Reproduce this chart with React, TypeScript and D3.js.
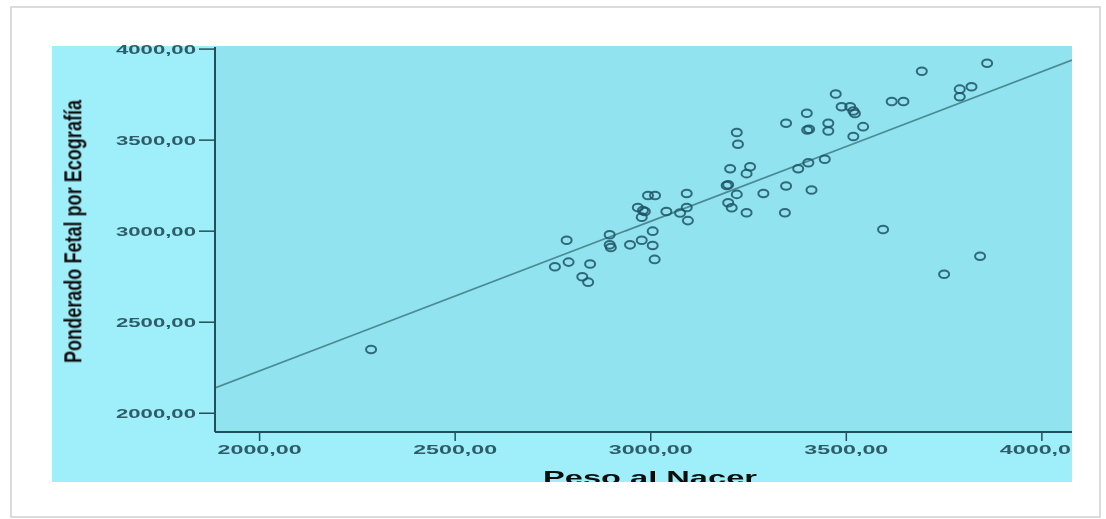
import React, { useEffect, useRef } from "react";
import * as d3 from "d3";

// Birth weight (g) vs. ultrasound estimated fetal weight (g)
const pesoNacer: number[] = [
  2285, 2755, 2785, 2790, 2845, 2825, 2840, 2895, 2895, 2898,
  2947, 2977, 3005, 3005, 3010, 2993, 3011, 3092, 2967, 2980,
  2985, 2977, 3040, 3075, 3092, 3095, 3220, 3223, 3203, 3254,
  3245, 3194, 3198, 3220, 3198, 3207, 3245, 3288, 3346, 3343,
  3411, 3377, 3403, 3445, 3346, 3399, 3400, 3405, 3454, 3454,
  3518, 3543, 3473, 3488, 3510, 3522, 3518, 3616, 3646, 3693,
  3790, 3820, 3790, 3860, 3594, 3750, 3842,
];
const ponderadoEco: number[] = [
  2350, 2805, 2950, 2830, 2820, 2750, 2720, 2980, 2925, 2910,
  2925, 2950, 3000, 2921, 2845, 3196, 3196, 3207, 3130, 3113,
  3108, 3077, 3108, 3100, 3130, 3058, 3542, 3477, 3343, 3354,
  3316, 3251, 3255, 3202, 3156, 3129, 3101, 3207, 3248, 3101,
  3226, 3343, 3376, 3395, 3593, 3648, 3556, 3560, 3593, 3550,
  3520, 3574, 3753, 3683, 3683, 3646, 3660, 3712, 3712, 3878,
  3780, 3793, 3738, 3922, 3009, 2763, 2862,
];

// Linear fit line: y = b0 + b1 * x
const fitIntercept = 590;
const fitSlope = 0.8215;

const xTicks: number[] = [2000, 2500, 3000, 3500, 4000];
const yTicks: number[] = [2000, 2500, 3000, 3500, 4000];
const xDomain: [number, number] = [1886, 4077];
const yDomain: [number, number] = [1897, 4017];

const xTitle = "Peso al Nacer";
const yTitle = "Ponderado Fetal por Ecografía";

const W = 1106;
const H = 519;
const panel = { x0: 52, y0: 46, x1: 1072, y1: 482 };
const plot = { x0: 215, y0: 46, x1: 1072, y1: 432 };

const fmt = (v: number) => v.toFixed(2).replace(".", ",");

export default function App() {
  const ref = useRef<SVGSVGElement | null>(null);

  useEffect(() => {
    const svg = d3.select(ref.current);
    svg.selectAll("*").remove();

    const x = d3.scaleLinear().domain(xDomain).range([plot.x0, plot.x1]);
    const y = d3.scaleLinear().domain(yDomain).range([plot.y1, plot.y0]);

    const defs = svg.append("defs");
    defs
      .append("clipPath")
      .attr("id", "panelClip")
      .append("rect")
      .attr("x", panel.x0)
      .attr("y", panel.y0)
      .attr("width", panel.x1 - panel.x0)
      .attr("height", panel.y1 - panel.y0);
    defs
      .append("clipPath")
      .attr("id", "plotClip")
      .append("rect")
      .attr("x", plot.x0)
      .attr("y", plot.y0)
      .attr("width", plot.x1 - plot.x0)
      .attr("height", plot.y1 - plot.y0);
    const f = defs.append("filter").attr("id", "soft");
    f.append("feGaussianBlur").attr("stdDeviation", 0.35);

    // page card
    svg.append("rect").attr("width", W).attr("height", H).attr("fill", "#ffffff");
    svg
      .append("rect")
      .attr("x", 11)
      .attr("y", 7)
      .attr("width", 1089)
      .attr("height", 510)
      .attr("fill", "#ffffff")
      .attr("stroke", "#cfcfcf")
      .attr("stroke-width", 1.5);

    // outer chart panel and inner plot area
    svg
      .append("rect")
      .attr("x", panel.x0)
      .attr("y", panel.y0)
      .attr("width", panel.x1 - panel.x0)
      .attr("height", panel.y1 - panel.y0)
      .attr("fill", "#9eeffa");
    svg
      .append("rect")
      .attr("x", plot.x0)
      .attr("y", plot.y0)
      .attr("width", plot.x1 - plot.x0)
      .attr("height", plot.y1 - plot.y0)
      .attr("fill", "#90e3ef");

    const g = svg.append("g").attr("filter", "url(#soft)");

    // fit line
    g.append("line")
      .attr("clip-path", "url(#plotClip)")
      .attr("x1", x(xDomain[0]))
      .attr("y1", y(fitIntercept + fitSlope * xDomain[0]))
      .attr("x2", x(xDomain[1]))
      .attr("y2", y(fitIntercept + fitSlope * xDomain[1]))
      .attr("stroke", "#4b8b95")
      .attr("stroke-width", 1.7);

    // points
    const pts = pesoNacer.map((v, i) => [v, ponderadoEco[i]] as [number, number]);
    g.append("g")
      .selectAll("ellipse")
      .data(pts)
      .join("ellipse")
      .attr("cx", (d) => x(d[0]))
      .attr("cy", (d) => y(d[1]))
      .attr("rx", 5)
      .attr("ry", 3.8)
      .attr("fill", "none")
      .attr("stroke", "#1f5463")
      .attr("stroke-opacity", 0.85)
      .attr("stroke-width", 2);

    // axes
    const axisColor = "#23505b";
    const labelColor = "#2f5c68";
    g.append("line")
      .attr("x1", plot.x0)
      .attr("x2", plot.x0)
      .attr("y1", plot.y0 + 1)
      .attr("y2", plot.y1)
      .attr("stroke", axisColor)
      .attr("stroke-width", 2);
    g.append("line")
      .attr("x1", plot.x0)
      .attr("x2", plot.x1)
      .attr("y1", plot.y1)
      .attr("y2", plot.y1)
      .attr("stroke", axisColor)
      .attr("stroke-width", 2);

    const yt = g.append("g");
    yTicks.forEach((t) => {
      yt.append("line")
        .attr("x1", plot.x0 - 16)
        .attr("x2", plot.x0)
        .attr("y1", y(t))
        .attr("y2", y(t))
        .attr("stroke", axisColor)
        .attr("stroke-width", 1.5);
      yt.append("text")
        .attr("x", 196)
        .attr("y", y(t) + 4.8)
        .attr("text-anchor", "end")
        .attr("font-family", "'Liberation Sans', Arial, sans-serif")
        .attr("font-size", 13)
        .attr("font-weight", 600)
        .attr("fill", labelColor)
        .attr("textLength", 80)
        .attr("lengthAdjust", "spacingAndGlyphs")
        .text(fmt(t));
    });

    const xt = g.append("g").attr("clip-path", "url(#panelClip)");
    xTicks.forEach((t) => {
      xt.append("line")
        .attr("x1", x(t))
        .attr("x2", x(t))
        .attr("y1", plot.y1)
        .attr("y2", plot.y1 + 9)
        .attr("stroke", axisColor)
        .attr("stroke-width", 1.5);
      xt.append("text")
        .attr("x", x(t) - 42)
        .attr("y", 454)
        .attr("font-family", "'Liberation Sans', Arial, sans-serif")
        .attr("font-size", 13)
        .attr("font-weight", 600)
        .attr("fill", labelColor)
        .attr("textLength", 84)
        .attr("lengthAdjust", "spacingAndGlyphs")
        .text(fmt(t));
    });

    // axis titles
    g.append("text")
      .attr("clip-path", "url(#panelClip)")
      .attr("x", 543)
      .attr("y", 484)
      .attr("font-family", "'Liberation Sans', Arial, sans-serif")
      .attr("font-weight", "bold")
      .attr("font-size", 19)
      .attr("fill", "#111")
      .attr("textLength", 214)
      .attr("lengthAdjust", "spacingAndGlyphs")
      .text(xTitle);

    g.append("text")
      .attr("transform", "translate(81,231.5) scale(1.35,1) rotate(-90)")
      .attr("x", -131.5)
      .attr("y", 0)
      .attr("font-family", "'Liberation Sans', Arial, sans-serif")
      .attr("font-weight", "bold")
      .attr("font-size", 18)
      .attr("fill", "#111")
      .attr("textLength", 263)
      .attr("lengthAdjust", "spacingAndGlyphs")
      .text(yTitle);
  }, []);

  return (
    <svg
      ref={ref}
      width={W}
      height={H}
      style={{ position: "absolute", left: 0, top: 0, display: "block" }}
    />
  );
}
